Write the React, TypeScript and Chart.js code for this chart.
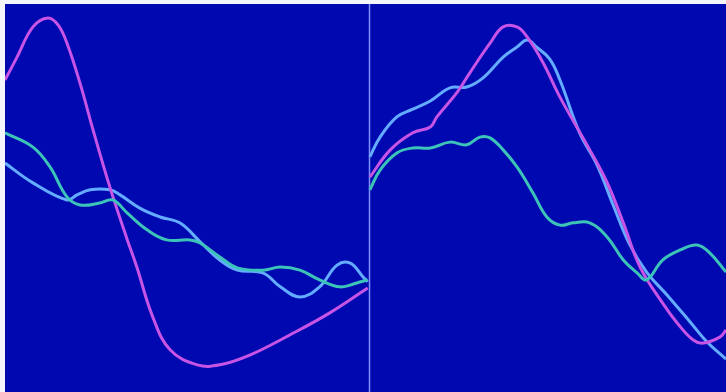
import React, { useEffect, useRef } from "react";
import { Chart, registerables } from "chart.js";

Chart.register(...registerables);

// x positions (0..99), divider at 50
const magentaX = [0, 1.65, 3.84, 5.9, 7.28, 8.51, 10.3, 12.1, 14.4, 16.8, 18.1, 20.3, 22.7, 26.4, 29.5, 33.6, 39.1, 44.6, 49.8, 50,
  50.1, 52.9, 56.0, 58.4, 59.3, 62.1, 63.8, 66.6, 68.4, 70.3, 71.7, 73.9, 76.2, 80.3, 82.7, 84.9, 87.2, 90.3, 92.3, 94.5, 95.9, 98.2, 99.0];
const magentaY = [80.4, 86.3, 94.1, 96.4, 94.6, 89.9, 79.6, 67.5, 52.8, 39.2, 32.2, 19.3, 10.8, 7.0, 7.0, 9.5, 14.7, 20.4, 26.8, null,
  55.4, 62.4, 66.8, 68.3, 70.9, 77.3, 82.2, 89.9, 94.1, 94.1, 91.5, 84.8, 76.0, 62.4, 53.9, 43.6, 32.2, 22.9, 17.8, 13.4, 12.6, 14.2, 16.0];

const blueX = [0, 3.84, 8.51, 9.89, 11.7, 14.4, 15.8, 18.5, 21.3, 24.0, 26.8, 29.5, 31.9, 35.4, 37.8, 40.5, 43.2, 45.6, 47.4, 49.2, 49.8, 50,
  50.1, 51.5, 53.8, 56.0, 58.4, 61.1, 63.4, 65.6, 68.4, 70.3, 71.7, 73.0, 74.8, 76.2, 78.9, 81.3, 83.5, 85.8, 88.1, 90.9, 94.1, 96.4, 99.0];
const blueY = [59.0, 53.9, 49.5, 50.8, 52.1, 52.1, 50.8, 47.4, 45.1, 43.6, 38.7, 34.0, 31.4, 30.7, 27.1, 24.5, 27.1, 32.7, 33.2, 29.6, 28.4, null,
  60.6, 65.7, 70.9, 72.9, 75.0, 78.4, 78.6, 80.9, 86.3, 88.9, 90.7, 88.9, 85.8, 80.4, 66.8, 58.5, 48.2, 37.9, 30.9, 25.0, 18.0, 12.9, 8.5];

const greenX = [0, 3.84, 6.18, 8.51, 10.3, 13.0, 14.8, 16.8, 19.5, 22.2, 25.4, 26.8, 29.5, 31.9, 35.4, 37.8, 40.5, 43.2, 46.0, 48.3, 49.8, 50,
  50.1, 51.5, 53.8, 56.0, 58.4, 61.1, 63.4, 65.2, 66.6, 68.4, 70.3, 72.5, 74.4, 76.2, 78.0, 80.3, 82.7, 84.9, 86.8, 88.1, 90.3, 92.7, 95.0, 96.8, 99.0];
const greenY = [66.8, 63.1, 58.0, 50.3, 48.2, 48.7, 49.5, 46.1, 41.8, 39.2, 39.2, 38.4, 34.8, 32.0, 31.4, 32.2, 31.4, 28.9, 27.1, 28.1, 28.9, null,
  52.1, 57.2, 61.6, 62.9, 62.9, 64.4, 63.7, 65.7, 65.5, 62.4, 58.0, 51.3, 45.1, 43.0, 43.6, 43.6, 39.9, 34.0, 30.7, 28.9, 34.0, 36.6, 37.9, 35.8, 30.9];

const dividerX = 50;

const toPoints = (xs: number[], ys: (number | null)[]) => xs.map((x, i) => ({ x, y: ys[i] }));

export default function App() {
  const ref = useRef<HTMLCanvasElement | null>(null);
  useEffect(() => {
    if (!ref.current) return;
    const bgPlugin = {
      id: "bg",
      beforeDraw(chart: any) {
        const { ctx } = chart;
        ctx.save();
        ctx.fillStyle = "#0008b0";
        ctx.fillRect(0, 0, chart.width, chart.height);
        const xs = chart.scales.x;
        const px = Math.round(xs.getPixelForValue(dividerX)) + 0.5;
        ctx.strokeStyle = "#8090ff";
        ctx.lineWidth = 1.5;
        ctx.beginPath();
        ctx.moveTo(px, 0);
        ctx.lineTo(px, chart.height);
        ctx.stroke();
        ctx.restore();
      },
    };
    const common = { borderWidth: 3, pointRadius: 0, tension: 0.4, spanGaps: false, fill: false };
    const chart = new Chart(ref.current, {
      type: "line",
      data: {
        datasets: [
          { ...common, label: "green", data: toPoints(greenX, greenY), borderColor: "#3cc4b8" },
          { ...common, label: "magenta", data: toPoints(magentaX, magentaY), borderColor: "#c854e6" },
          { ...common, label: "blue", data: toPoints(blueX, blueY), borderColor: "#64acff" },
        ],
      },
      options: {
        animation: false,
        responsive: false,
        maintainAspectRatio: false,
        layout: { padding: 0 },
        plugins: { legend: { display: false }, tooltip: { enabled: false } },
        scales: {
          x: { type: "linear", min: 0, max: 99, display: false },
          y: { type: "linear", min: 0, max: 100, display: false },
        },
      },
      plugins: [bgPlugin],
    });
    return () => chart.destroy();
  }, []);
  return (
    <div style={{ position: "fixed", left: 0, top: 0, width: 726, height: 392, background: "#f4f6fb" }}>
      <div style={{ position: "absolute", left: 5, top: 4, width: 721, height: 388 }}>
        <canvas ref={ref} width={721} height={388} style={{ width: 721, height: 388, display: "block" }} />
      </div>
    </div>
  );
}
